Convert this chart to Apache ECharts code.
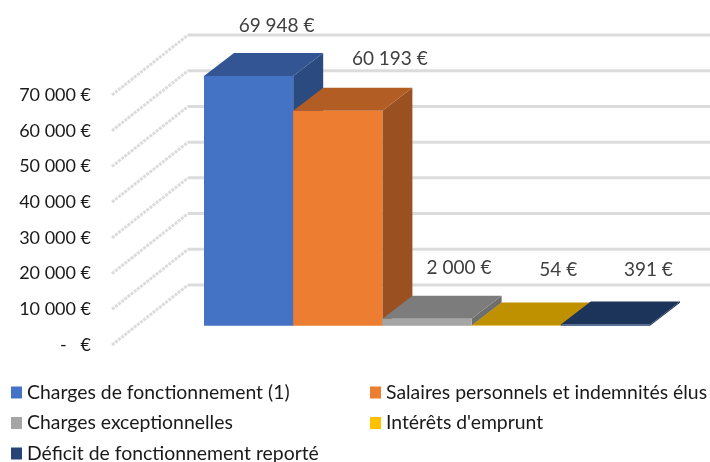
<!DOCTYPE html>
<html lang="fr">
<head>
	<meta charset="UTF-8">
	<title>Charges</title>
	<script src="https://cdn.jsdelivr.net/npm/echarts@6/dist/echarts.min.js"></script>
	<style>
		html, body { margin: 0; padding: 0; background: #fff; }
		#main { width: 710px; height: 462px; }
	</style>
</head>
<body>
<div id="main"></div>
<script>
var categories = ['Charges de fonctionnement (1)', 'Salaires personnels et indemnités élus', 'Charges exceptionnelles', "Intérêts d'emprunt", 'Déficit de fonctionnement reporté'];
var values = [69948, 60193, 2000, 54, 391];
var valueLabels = ['69 948 €', '60 193 €', '2 000 €', '54 €', '391 €'];
var yTicks = [0, 10000, 20000, 30000, 40000, 50000, 60000, 70000];
var yTickLabels = ['-   €', '10 000 €', '20 000 €', '30 000 €', '40 000 €', '50 000 €', '60 000 €', '70 000 €'];
var frontColors = ['#4472C4', '#ED7D31', '#A5A5A5', '#FFC000', '#264478'];
var topColors = ['#335593', '#B25D24', '#7C7C7C', '#BF9000', '#1C335A'];
var sideColors = ['#2A4A80', '#9A5020', '#6E6E6E', '#BF9000', '#1C335A'];

// depth of the fake 3D box, in pixels
var barDepth = [30, -23];
var wallDepth = [76, -60];
// the labels are not centred on the bars in the original
var labelShift = [[-2, -27], [22, -29], [2, -28], [12, -33], [13, -32]];

var font = 'Lato';

function renderBar(params, api) {
    var i = api.value(0);
    var w = api.size([1, 0])[0];
    var top = api.coord([i, api.value(1)]);
    var base = api.coord([i, 0]);
    var x0 = top[0] - w / 2, x1 = top[0] + w / 2;
    var dx = barDepth[0], dy = barDepth[1];
    return {
        type: 'group',
        children: [
            { type: 'polygon', shape: { points: [[x1, top[1]], [x1 + dx, top[1] + dy], [x1 + dx, base[1] + dy], [x1, base[1]]] }, style: { fill: sideColors[i] } },
            { type: 'polygon', shape: { points: [[x0, top[1]], [x0 + dx, top[1] + dy], [x1 + dx, top[1] + dy], [x1, top[1]]] }, style: { fill: topColors[i] } },
            { type: 'rect', shape: { x: x0, y: top[1], width: w, height: base[1] - top[1] }, style: { fill: frontColors[i] } }
        ]
    };
}

function renderWall(params, api) {
    var p = api.coord([0, api.value(0)]);
    var end = api.coord([1, api.value(0)]);
    var bx = p[0] + wallDepth[0], by = p[1] + wallDepth[1];
    return {
        type: 'group',
        children: [
            { type: 'line', shape: { x1: p[0], y1: p[1], x2: bx, y2: by }, style: { stroke: '#dcdcdc', lineWidth: 3, lineDash: [3, 1] } },
            { type: 'line', shape: { x1: bx, y1: by, x2: end[0], y2: by }, style: { stroke: '#dcdcdc', lineWidth: 3 } }
        ]
    };
}

function renderLabel(params, api) {
    var i = api.value(0);
    var p = api.coord([i, api.value(1)]);
    return {
        type: 'text',
        style: {
            x: p[0] + barDepth[0] + labelShift[i][0],
            y: p[1] + barDepth[1] + labelShift[i][1],
            text: valueLabels[i],
            fill: '#404040',
            font: '19px ' + font,
            align: 'center',
            verticalAlign: 'middle'
        }
    };
}

var series = [{
    type: 'custom',
    name: 'wall',
    xAxisIndex: 1,
    yAxisIndex: 1,
    silent: true,
    renderItem: renderWall,
    data: yTicks.map(function (v) { return [v]; }),
    encode: { y: 0 },
    z: 1
}];
for (var i = 0; i < categories.length; i++) {
    series.push({
        type: 'custom',
        name: categories[i],
        xAxisIndex: 0,
        yAxisIndex: 0,
        renderItem: renderBar,
        itemStyle: { color: frontColors[i] },
        data: [[i, values[i]]],
        encode: { x: 0, y: 1 },
        z: 2
    });
}
series.push({
    type: 'custom',
    name: 'labels',
    xAxisIndex: 0,
    yAxisIndex: 0,
    silent: true,
    renderItem: renderLabel,
    data: values.map(function (v, i) { return [i, v]; }),
    encode: { x: 0, y: 1 },
    z: 3
});

var legendText = { fontFamily: font, fontSize: 19.4, color: '#1a1a1a' };

var myChart = echarts.init(document.getElementById('main'));
myChart.setOption({
    animation: false,
    backgroundColor: '#fff',
    legend: [{
        data: [categories[0], categories[2], categories[4]],
        orient: 'vertical', left: 11, top: 383, height: 120, itemWidth: 11, itemHeight: 12, itemGap: 11.5,
        selectedMode: false, icon: 'rect', padding: 0, textStyle: legendText
    }, {
        data: [categories[1], categories[3]],
        orient: 'vertical', left: 370, top: 383, height: 120, itemWidth: 11, itemHeight: 12, itemGap: 11.5,
        selectedMode: false, icon: 'rect', padding: 0, textStyle: legendText
    }],
    grid: [
        { left: 204, top: 75.8, width: 446, height: 250 },
        { left: 112, top: 95, width: 598, height: 250 }
    ],
    xAxis: [
        { gridIndex: 0, type: 'category', data: categories, show: false },
        { gridIndex: 1, type: 'value', min: 0, max: 1, show: false }
    ],
    yAxis: [
        { gridIndex: 0, type: 'value', min: 0, max: 70000, interval: 10000, show: false },
        {
            gridIndex: 1, type: 'value', min: 0, max: 70000, interval: 10000,
            axisLine: { show: false }, axisTick: { show: false }, splitLine: { show: false },
            axisLabel: {
                margin: 21, fontFamily: font, fontSize: 18, color: '#1a1a1a',
                formatter: function (v) { return yTickLabels[yTicks.indexOf(v)]; }
            }
        }
    ],
    series: series
});
</script>
</body>
</html>
